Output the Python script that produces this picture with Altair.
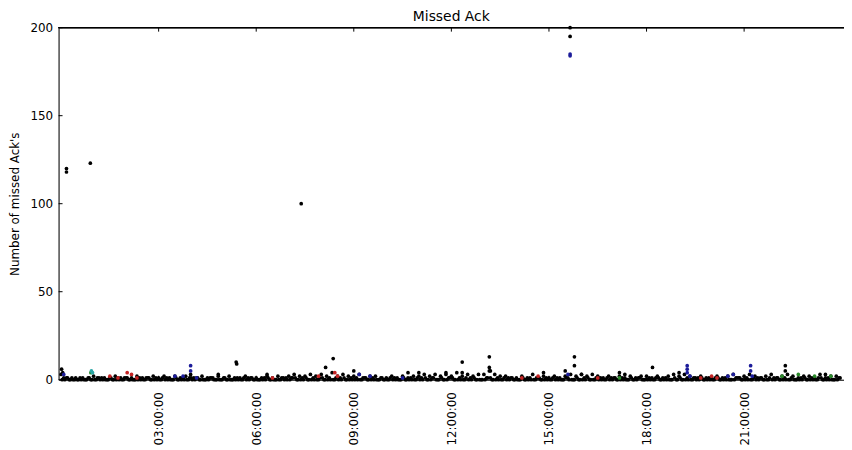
import altair as alt
import pandas as pd

DAY = "2013-03-05"

# Regularly sampled black series: one value every 10 minutes at offsets +0, +5, +2, +7 minutes
black_a = [
    3, 1, 1, 0, 1, 1,   2, 1, 1, 1, 2, 1,   1, 1, 2, 1, 1, 2,   1, 2, 1, 2, 1, 2,
    1, 1, 2, 1, 1, 2,   1, 2, 1, 1, 2, 1,   1, 1, 2, 1, 2, 1,   2, 3, 2, 2, 3, 2,
    3, 2, 4, 2, 3, 2,   2, 3, 1, 2, 2, 1,   1, 2, 1, 2, 1, 2,   2, 3, 2, 3, 2, 3,
    2, 4, 2, 3, 2, 3,   3, 5, 3, 2, 2, 1,   1, 2, 1, 3, 1, 2,   1, 2, 1, 2, 3, 2,
    3, 2, 3, 2, 1, 2,   1, 2, 1, 2, 1, 2,   2, 1, 2, 1, 2, 3,   2, 3, 2, 1, 2, 1,
    1, 2, 1, 2, 3, 1,   2, 3, 2, 1, 2, 3,   1, 2, 3, 2, 1, 2,   2, 1, 3, 1, 2, 2,
]
black_b = [
    1, 0, 0, 1, 0, 0,   0, 1, 0, 0, 1, 0,   0, 0, 1, 0, 0, 1,   0, 1, 0, 0, 1, 0,
    1, 0, 0, 1, 0, 0,   0, 0, 1, 0, 1, 0,   0, 1, 0, 0, 0, 1,   1, 0, 1, 0, 1, 0,
    0, 1, 0, 1, 0, 1,   1, 0, 0, 1, 0, 0,   0, 1, 0, 0, 1, 0,   1, 0, 1, 0, 0, 1,
    0, 1, 0, 1, 0, 0,   1, 0, 1, 0, 1, 0,   0, 0, 1, 0, 0, 1,   0, 1, 0, 1, 0, 0,
    1, 0, 0, 1, 0, 1,   0, 1, 0, 0, 1, 0,   1, 0, 0, 1, 0, 0,   0, 1, 0, 1, 0, 1,
    0, 0, 1, 0, 1, 0,   1, 0, 1, 0, 0, 1,   0, 1, 0, 0, 1, 0,   1, 0, 0, 1, 0, 1,
]
black_c = [
    0, 1, 0, 0, 0, 1,   0, 0, 0, 1, 0, 0,   1, 0, 0, 0, 1, 0,   0, 0, 0, 1, 0, 0,
    0, 1, 0, 0, 0, 0,   1, 0, 0, 0, 0, 1,   0, 0, 1, 0, 0, 0,   0, 1, 0, 1, 0, 0,
    1, 0, 0, 0, 1, 0,   0, 0, 1, 0, 0, 1,   0, 0, 0, 1, 0, 0,   0, 1, 0, 0, 1, 0,
    1, 0, 0, 0, 1, 0,   0, 1, 0, 0, 0, 1,   0, 1, 0, 0, 1, 0,   0, 0, 0, 1, 0, 1,
    0, 1, 0, 0, 0, 0,   1, 0, 0, 1, 0, 0,   0, 0, 1, 0, 0, 1,   1, 0, 0, 0, 1, 0,
    0, 1, 0, 0, 0, 1,   0, 0, 0, 1, 0, 0,   1, 0, 0, 0, 0, 1,   0, 0, 1, 0, 0, 0,
]
black_d = [
    0, 0, 1, 0, 0, 0,   1, 0, 0, 0, 0, 1,   0, 0, 0, 1, 0, 0,   1, 0, 0, 0, 0, 1,
    0, 0, 0, 1, 0, 0,   0, 0, 0, 1, 0, 0,   0, 0, 0, 0, 1, 0,   1, 0, 0, 0, 0, 1,
    0, 0, 1, 0, 0, 0,   0, 1, 0, 0, 0, 0,   1, 0, 0, 0, 0, 1,   0, 0, 1, 0, 0, 1,
    0, 0, 1, 0, 0, 0,   1, 0, 0, 1, 0, 0,   0, 0, 0, 1, 0, 0,   1, 0, 0, 0, 0, 0,
    0, 0, 1, 0, 1, 0,   0, 0, 0, 0, 1, 0,   0, 1, 0, 0, 0, 0,   0, 0, 1, 0, 0, 0,
    1, 0, 0, 0, 1, 0,   0, 1, 0, 0, 1, 0,   0, 0, 1, 0, 0, 0,   0, 1, 0, 0, 0, 1,
]
regular_offsets = [0, 5, 2, 7]

# Irregular black observations (time, value)
black_x_times = ["00:01", "00:03", "00:10", "00:10", "00:54", "03:59", "04:50", "05:23", "05:24",
                 "06:20", "07:23", "08:08", "08:22", "09:00", "10:40", "11:00", "11:50", "12:20",
                 "12:20", "13:10", "13:10", "13:12", "14:50", "15:30", "15:39", "15:39", "15:47",
                 "15:47", "16:00", "17:10", "17:20", "18:11", "19:00", "22:16", "22:16", "23:30"]
black_x_values = [6, 4, 120, 118, 123, 3, 3, 10, 9,
                  3, 100, 7, 12, 5, 4, 4, 4, 10,
                  4, 13, 7, 5, 4, 5, 200, 195, 13,
                  8, 3, 4, 3, 7, 4, 8, 5, 3]

blue_times = ["00:05", "03:30", "03:45", "03:59", "03:59", "04:10", "09:10", "09:30", "10:30",
              "15:35", "15:39", "15:39", "19:15", "19:15", "19:15", "19:20", "20:30", "20:40",
              "21:12", "21:12", "21:15"]
blue_values = [3, 2, 2, 8, 5, 1, 3, 2, 1,
               3, 185, 184, 8, 6, 4, 2, 2, 3,
               8, 5, 2]

red_times = ["01:30", "01:45", "02:02", "02:10", "02:20", "06:30", "07:55", "08:25", "08:30",
             "14:10", "14:40", "16:30", "19:40", "20:00", "20:10"]
red_values = [2, 1, 4, 3, 1, 1, 2, 4, 2,
              1, 2, 1, 1, 2, 1]

green_times = ["00:55", "17:10", "22:10", "22:40", "23:10", "23:40"]
green_values = [4, 1, 2, 3, 2, 2]

cyan_times = ["00:56", "00:58"]
cyan_values = [5, 4]

y_ticks = [0, 50, 100, 150, 200]
x_tick_hours = [3, 6, 9, 12, 15, 18, 21]

series_names = ["k", "b", "r", "g", "c"]
series_colors = ["#000000", "#1c1c9a", "#c42424", "#2a8a2a", "#2aa6a6"]


def iso(hhmm):
    return f"{DAY}T{hhmm}:00Z"


rows = []
start = pd.Timestamp(f"{DAY}T00:00:00")
for off, vals in zip(regular_offsets, [black_a, black_b, black_c, black_d]):
    for i, v in enumerate(vals):
        t = start + pd.Timedelta(minutes=10 * i + off)
        rows.append({"t": t.strftime("%Y-%m-%dT%H:%M:%SZ"), "v": v, "s": "k"})
for tm, v in zip(black_x_times, black_x_values):
    rows.append({"t": iso(tm), "v": v, "s": "k"})
for name, times, vals in [("b", blue_times, blue_values), ("r", red_times, red_values),
                          ("g", green_times, green_values), ("c", cyan_times, cyan_values)]:
    for tm, v in zip(times, vals):
        rows.append({"t": iso(tm), "v": v, "s": name})

df = pd.DataFrame(rows)
df["o"] = df["s"].map({"k": 0, "b": 1, "r": 2, "g": 3, "c": 4})

W, H = 792, 355
FONT = "DejaVu Sans"

x_scale = alt.Scale(
    type="utc",
    domain=[alt.DateTime(year=2013, month=3, date=4, hours=23, minutes=55, seconds=26, utc=True),
            alt.DateTime(year=2013, month=3, date=6, hours=0, minutes=4, seconds=15, utc=True)],
    nice=False,
)
y_scale = alt.Scale(domain=[0, 200], nice=False)

x_vals = [alt.DateTime(year=2013, month=3, date=5, hours=h, utc=True) for h in x_tick_hours]

points = alt.Chart(df).mark_circle(size=14, opacity=1).encode(
    x=alt.X("t:T", scale=x_scale, title=None,
            axis=alt.Axis(values=x_vals, format="%H:%M:%S", labelAngle=-90, labelPadding=12,
                          ticks=False, domain=True, domainColor="black", labelFlush=False,
                          labelOverlap=False, labelFont=FONT, labelFontSize=12, labelColor="black",
                          grid=False)),
    y=alt.Y("v:Q", scale=y_scale, title="Number of missed Ack's",
            axis=alt.Axis(values=y_ticks, labelPadding=6, ticks=False, domain=True,
                          domainColor="black", labelFont=FONT, labelFontSize=12, labelColor="black",
                          titleFont=FONT, titleFontSize=12, titleFontWeight="normal",
                          titleColor="black", titlePadding=9, grid=False, labelFlush=False)),
    color=alt.Color("s:N", scale=alt.Scale(domain=series_names, range=series_colors), legend=None),
    order=alt.Order("o:Q"),
)

ytick_df = pd.DataFrame({"v": y_ticks})
yticks = alt.Chart(ytick_df).mark_rule(color="black", strokeWidth=1).encode(
    y="v:Q", x=alt.value(0), x2=alt.value(4)
)

xtick_df = pd.DataFrame({"t": [f"{DAY}T{h:02d}:00:00Z" for h in x_tick_hours]})
xticks_bottom = alt.Chart(xtick_df).mark_rule(color="black", strokeWidth=1).encode(
    x="t:T", y=alt.value(H), y2=alt.value(H - 4)
)
xticks_top = alt.Chart(xtick_df).mark_rule(color="black", strokeWidth=1).encode(
    x="t:T", y=alt.value(0), y2=alt.value(4)
)
top_spine = alt.Chart(ytick_df).mark_rule(color="black", strokeWidth=1).encode(
    x=alt.value(0), x2=alt.value(W), y=alt.value(0)
)

chart = alt.layer(points, yticks, xticks_bottom, xticks_top, top_spine).properties(
    width=W, height=H,
    title=alt.TitleParams("Missed Ack", font=FONT, fontSize=14, fontWeight="normal",
                          color="black", anchor="middle", offset=-2),
    autosize=alt.AutoSizeParams(type="none"),
    padding={"left": 51, "top": 18, "right": 0, "bottom": 66},
).configure_view(stroke=None).configure(background="white")

chart.save("out.html", embed_options={"renderer": "svg", "actions": False})
